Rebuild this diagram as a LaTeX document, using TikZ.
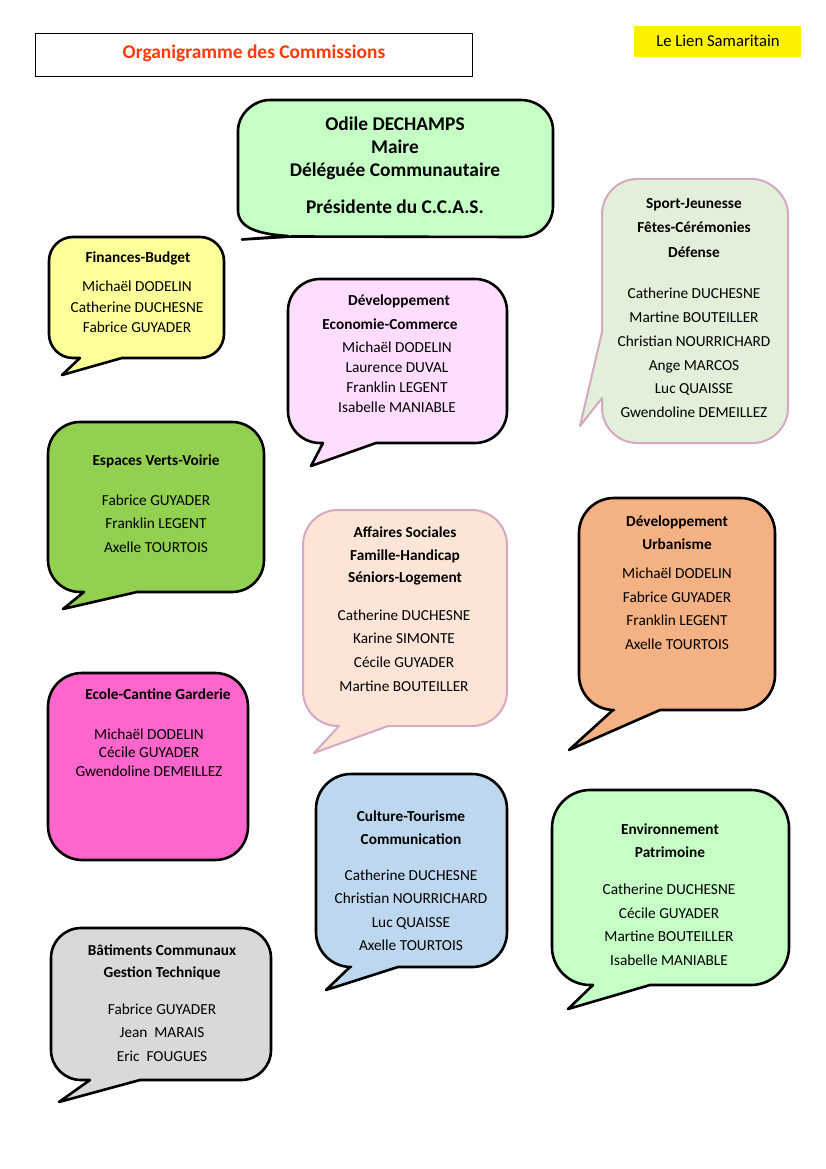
\documentclass[tikz,border=0pt]{standalone}
\usepackage{fontspec}
\setmainfont{Carlito}
\definecolor{titlered}{RGB}{255,58,10}
\definecolor{cgreenlt}{RGB}{197,255,197}
\definecolor{cyellow}{RGB}{255,255,153}
\definecolor{cgreen}{RGB}{146,208,80}
\definecolor{cpink}{RGB}{255,102,204}
\definecolor{cgrey}{RGB}{217,217,217}
\definecolor{clav}{RGB}{255,221,255}
\definecolor{cpeach}{RGB}{252,228,214}
\definecolor{csport}{RGB}{226,239,217}
\definecolor{corange}{RGB}{244,177,131}
\definecolor{cblue}{RGB}{189,215,238}
\definecolor{cborderpink}{RGB}{214,168,194}
\newcommand\bubbleB[9]{%
\draw[#1] (#2,{(#3+#5)/2}) -- (#2,{#3+#6}) .. controls (#2,{#3+0.448*#6}) and ({#2+0.448*#6},#3) .. ({#2+#6},#3) -- ({#4-#6},#3) .. controls ({#4-0.448*#6},#3) and (#4,{#3+0.448*#6}) .. (#4,{#3+#6}) -- (#4,{#5-#6}) .. controls (#4,{#5-0.448*#6}) and ({#4-0.448*#6},#5) .. ({#4-#6},#5) -- (#9,#5) -- (#8) -- (#7,#5) -- ({#2+#6},#5) .. controls ({#2+0.448*#6},#5) and (#2,{#5-0.448*#6}) .. (#2,{#5-#6}) -- cycle;}
\tikzset{
  blk/.style={draw=black, line width=2.6pt, line join=round},
  pnk/.style={draw=cborderpink, line width=2pt, line join=round},
  txt/.style={anchor=base, inner sep=0pt, font=\fontsize{15.3}{18}\selectfont},
  ttl/.style={anchor=base, inner sep=0pt, font=\bfseries\fontsize{15.3}{18}\selectfont},
  big/.style={anchor=base, inner sep=0pt, font=\bfseries\fontsize{19.4}{23}\selectfont},
}
\begin{document}
\begin{tikzpicture}[x=1pt,y=-1pt]
\useasboundingbox (0,0) rectangle (826,1169);
\fill[white] (0,0) rectangle (826,1169);
% header
\draw[line width=1pt] (35,34) rectangle (472,77);
\node[anchor=base, inner sep=0pt, font=\bfseries\fontsize{19.4}{23}\selectfont, text=titlered] (title) at (254,59) {Organigramme des Commissions};
\fill[yellow] (634,26) rectangle (801,57);
\node[anchor=base, inner sep=0pt, font=\fontsize{16.7}{20}\selectfont] (lien) at (718,47) {Le Lien Samaritain};
% mayor
\draw[blk, fill=cgreenlt] (238,170) -- (238,130) .. controls (238,116) and (252,100) .. (270,100) -- (521,100) .. controls (539,100) and (553,114) .. (553,130) -- (553,206) .. controls (553,224) and (539,237) .. (521,237) -- (292,236.5) -- (242,239.5) -- (288,236) .. controls (258,234) and (238,228) .. (238,210) -- cycle;
\node[big] (m1) at (395,131) {Odile DECHAMPS};
\node[big] (m2) at (395,154) {Maire};
\node[big] (m3) at (395,177) {Déléguée Communautaire};
\node[big] (m4) at (395,214) {Présidente du C.C.A.S.};
% Finances
\bubbleB{blk, fill=cyellow}{49}{237}{224}{358}{24}{80}{62,375}{122}
\node[ttl] (f0) at (138,262) {Finances-Budget};
\node[txt] (f1) at (137,291) {Michaël DODELIN};
\node[txt] (f2) at (137,312) {Catherine DUCHESNE};
\node[txt] (f3) at (137,332) {Fabrice GUYADER};
% Espaces verts
\bubbleB{blk, fill=cgreen}{48}{422}{264}{592}{32}{84}{63,609}{137}
\node[ttl] (e0) at (156,465) {Espaces Verts-Voirie};
\node[txt] (e1) at (156,505) {Fabrice GUYADER};
\node[txt] (e2) at (156,528) {Franklin LEGENT};
\node[txt] (e3) at (156,552) {Axelle TOURTOIS};
% Ecole
\draw[blk, fill=cpink] (48,766) -- (48,707) .. controls (48,687) and (64,673) .. (82,673) -- (215,673) .. controls (234,673) and (248,688) .. (248,707) -- (248,826) .. controls (248,845) and (234,860) .. (215,860) -- (82,860) .. controls (64,860) and (48,845) .. (48,826) -- cycle;
\node[ttl] (c0) at (158,699) {Ecole-Cantine Garderie};
\node[txt] (c1) at (149,739) {Michaël DODELIN};
\node[txt] (c2) at (149,757) {Cécile GUYADER};
\node[txt] (c3) at (149,776) {Gwendoline DEMEILLEZ};
% Batiments
\bubbleB{blk, fill=cgrey}{51}{928}{271}{1080}{30}{90}{59,1102}{140}
\node[ttl] (b0) at (162,955) {Bâtiments Communaux};
\node[ttl] (b1) at (162,977) {Gestion Technique};
\node[txt] (b2) at (162,1014) {Fabrice GUYADER};
\node[txt] (b3) at (162,1037) {Jean\ \ MARAIS};
\node[txt] (b4) at (162,1061) {Eric\ \ FOUGUES};
% Developpement Economie
\bubbleB{blk, fill=clav}{288}{279}{507}{443}{32}{323}{311,466}{376}
\node[ttl] (d0) at (399,305) {Développement};
\node[ttl] (d1) at (390,329) {Economie-Commerce};
\node[txt] (d2) at (397,352) {Michaël DODELIN};
\node[txt] (d3) at (397,372) {Laurence DUVAL};
\node[txt] (d4) at (397,392) {Franklin LEGENT};
\node[txt] (d5) at (397,412) {Isabelle MANIABLE};
% Affaires sociales
\bubbleB{pnk, fill=cpeach}{303}{510}{507}{726}{35}{339}{314,753}{388}
\node[ttl] (a0) at (405,537) {Affaires Sociales};
\node[ttl] (a1) at (405,560) {Famille-Handicap};
\node[ttl] (a2) at (405,582) {Séniors-Logement};
\node[txt] (a3) at (404,620) {Catherine DUCHESNE};
\node[txt] (a4) at (404,643) {Karine SIMONTE};
\node[txt] (a5) at (404,667) {Cécile GUYADER};
\node[txt] (a6) at (404,691) {Martine BOUTEILLER};
% Sport
\draw[pnk, fill=csport] (694,179) -- (753,179) .. controls (769,179) and (788,195) .. (788,214) -- (788,408) .. controls (788,427) and (772,443) .. (753,443) -- (637,443) .. controls (618,443) and (602,427) .. (602,408) -- (602,398) -- (580,426) -- (602,332) -- (602,214) .. controls (602,195) and (618,179) .. (637,179) -- cycle;
\node[ttl] (s0) at (694,208) {Sport-Jeunesse};
\node[ttl] (s1) at (694,232) {Fêtes-Cérémonies};
\node[ttl] (s2) at (694,257) {Défense};
\node[txt] (s3) at (694,298) {Catherine DUCHESNE};
\node[txt] (s4) at (694,322) {Martine BOUTEILLER};
\node[txt] (s5) at (694,346) {Christian NOURRICHARD};
\node[txt] (s6) at (694,370) {Ange MARCOS};
\node[txt] (s7) at (694,393) {Luc QUAISSE};
\node[txt] (s8) at (694,417) {Gwendoline DEMEILLEZ};
% Urbanisme
\bubbleB{blk, fill=corange}{579}{498}{775}{710}{35}{613}{569,750}{660}
\node[ttl] (u0) at (677,526) {Développement};
\node[ttl] (u1) at (677,549) {Urbanisme};
\node[txt] (u2) at (677,578) {Michaël DODELIN};
\node[txt] (u3) at (677,602) {Fabrice GUYADER};
\node[txt] (u4) at (677,625) {Franklin LEGENT};
\node[txt] (u5) at (677,649) {Axelle TOURTOIS};
% Culture
\bubbleB{blk, fill=cblue}{316}{774}{507}{967}{35}{350}{326,990}{398}
\node[ttl] (k0) at (411,821) {Culture-Tourisme};
\node[ttl] (k1) at (411,844) {Communication};
\node[txt] (k2) at (411,880) {Catherine DUCHESNE};
\node[txt] (k3) at (411,903) {Christian NOURRICHARD};
\node[txt] (k4) at (411,927) {Luc QUAISSE};
\node[txt] (k5) at (411,950) {Axelle TOURTOIS};
% Environnement
\bubbleB{blk, fill=cgreenlt}{552}{790}{789}{985}{38}{593}{568,1009}{650}
\node[ttl] (v0) at (670,834) {Environnement};
\node[ttl] (v1) at (670,857) {Patrimoine};
\node[txt] (v2) at (669,894) {Catherine DUCHESNE};
\node[txt] (v3) at (669,918) {Cécile GUYADER};
\node[txt] (v4) at (669,941) {Martine BOUTEILLER};
\node[txt] (v5) at (669,965) {Isabelle MANIABLE};
\end{tikzpicture}
\end{document}
